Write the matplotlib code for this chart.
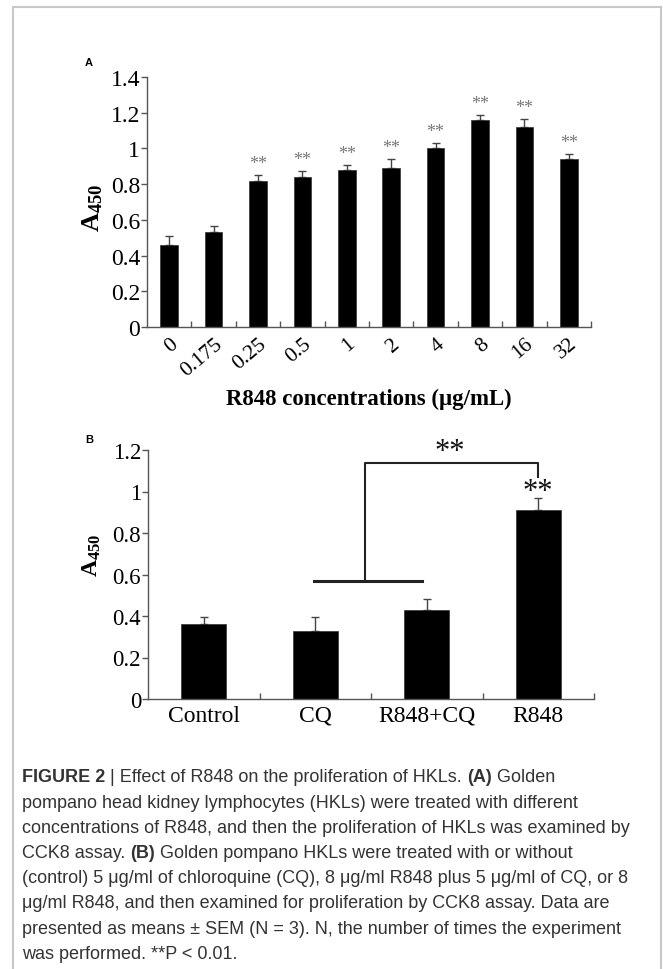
import numpy as np
import matplotlib
matplotlib.use('Agg')
import matplotlib.pyplot as plt
from matplotlib.patches import Rectangle

# panel A data
conc_labels = ['0', '0.175', '0.25', '0.5', '1', '2', '4', '8', '16', '32']
conc_means = [0.46, 0.53, 0.82, 0.84, 0.88, 0.89, 1.00, 1.16, 1.12, 0.94]
conc_sem = [0.05, 0.035, 0.03, 0.035, 0.03, 0.05, 0.03, 0.03, 0.045, 0.03]
conc_signif = [False, False, True, True, True, True, True, True, True, True]

# panel B data
group_labels = ['Control', 'CQ', 'R848+CQ', 'R848']
group_means = [0.36, 0.33, 0.43, 0.91]
group_sem = [0.035, 0.065, 0.05, 0.06]

caption_lines = [
    [('FIGURE 2', True), (' | Effect of R848 on the proliferation of HKLs. ', False), ('(A)', True), (' Golden', False)],
    [('pompano head kidney lymphocytes (HKLs) were treated with different', False)],
    [('concentrations of R848, and then the proliferation of HKLs was examined by', False)],
    [('CCK8 assay. ', False), ('(B)', True), (' Golden pompano HKLs were treated with or without', False)],
    [('(control) 5 \u03bcg/ml of chloroquine (CQ), 8 \u03bcg/ml R848 plus 5 \u03bcg/ml of CQ, or 8', False)],
    [('\u03bcg/ml R848, and then examined for proliferation by CCK8 assay. Data are', False)],
    [('presented as means \u00b1 SEM (N = 3). N, the number of times the experiment', False)],
    [('was performed. **P < 0.01.', False)],
]

plt.rcParams['font.family'] = 'Liberation Serif'
plt.rcParams['mathtext.fontset'] = 'custom'
plt.rcParams['mathtext.rm'] = 'Liberation Serif'
plt.rcParams['mathtext.bf'] = 'Liberation Serif:bold'

W, H = 663, 970
fig = plt.figure(figsize=(W / 100, H / 100), dpi=100)
fig.patch.set_facecolor('white')

# light frame around the figure
fig.patches.append(Rectangle((13 / W, -0.01), (661 - 13) / W, 1.01 - 8 / H, transform=fig.transFigure,
                             fill=False, edgecolor='#c8c8c8', linewidth=1.5))


def style_axis(ax, n, ymax, step, fs):
    for side in ['top', 'right']:
        ax.spines[side].set_visible(False)
    for side in ['left', 'bottom']:
        ax.spines[side].set_color('#555555')
        ax.spines[side].set_linewidth(1.0)
    ax.set_xlim(-0.5, n - 0.5)
    ax.set_ylim(0, ymax)
    yt = np.round(np.arange(0, ymax + 1e-9, step), 1)
    ax.set_yticks(yt)
    ax.set_yticklabels(['%g' % v for v in yt], fontsize=fs)
    ax.tick_params(axis='y', direction='out', length=4, width=1, color='#555555', pad=1)
    ax.set_xticks(np.arange(n))
    ax.set_xticks(np.arange(0.5, n, 1), minor=True)
    ax.tick_params(axis='x', which='major', length=0)
    ax.tick_params(axis='x', which='minor', direction='in', length=4, width=1, color='#555555')


# ---- panel A ----
axA = fig.add_axes([147 / W, 1 - 328 / H, 444 / W, 250 / H])
x = np.arange(len(conc_labels))
axA.bar(x, conc_means, width=0.4, color='black', edgecolor='#333333', linewidth=0.5, zorder=2)
axA.errorbar(x, conc_means, yerr=[np.zeros(len(x)), conc_sem], fmt='none', ecolor='#444444',
             elinewidth=1, capsize=3, capthick=1, zorder=1)
style_axis(axA, len(conc_labels), 1.4, 0.2, 17)
axA.set_xticklabels(conc_labels, fontsize=15.5, rotation=40, ha='right', rotation_mode='anchor')
axA.tick_params(axis='x', which='major', pad=5)
for xi, m, e, s in zip(x, conc_means, conc_sem, conc_signif):
    if s:
        axA.annotate('**', (xi, m + e), xytext=(0, 2), textcoords='offset points', ha='center',
                     va='bottom', fontsize=13, color='#777777')
axA.set_ylabel(r'$\mathbf{A_{450}}$', fontsize=19)
axA.yaxis.set_label_coords(-0.095, 0.48)
axA.set_xlabel('R848 concentrations (\u03bcg/mL)', fontsize=16.5, fontweight='bold', labelpad=6)
fig.text(89 / W, 1 - 63 / H, 'A', fontsize=8, fontweight='bold', family='Liberation Sans',
         ha='center', va='center')

# ---- panel B ----
axB = fig.add_axes([148 / W, 1 - 700 / H, 446 / W, 249 / H])
xb = np.arange(len(group_labels))
axB.bar(xb, group_means, width=0.4, color='black', edgecolor='#333333', linewidth=0.5, zorder=2)
axB.errorbar(xb, group_means, yerr=[np.zeros(len(xb)), group_sem], fmt='none', ecolor='#444444',
             elinewidth=1, capsize=3, capthick=1, zorder=1)
style_axis(axB, len(group_labels), 1.2, 0.2, 16.5)
axB.set_xticklabels(group_labels, fontsize=17)
axB.tick_params(axis='x', which='major', pad=4)
axB.set_ylabel(r'$\mathbf{A_{450}}$', fontsize=17)
axB.yaxis.set_label_coords(-0.10, 0.58)

# significance bracket
axB.plot([0.985, 1.96], [0.567, 0.567], color='#222222', linewidth=2.2, clip_on=False)
axB.plot([1.445, 1.445, 3.0, 3.0], [0.567, 1.135, 1.135, 1.068], color='#222222', linewidth=1.5,
         clip_on=False)
axB.text(2.21, 1.125, '**', ha='center', va='bottom', fontsize=22, color='#111111')
axB.text(3.0, 1.0, '**', ha='center', va='center', fontsize=22, color='#111111')
fig.text(89 / W, 1 - 440 / H, 'B', fontsize=8, fontweight='bold', family='Liberation Sans',
         ha='center', va='center')

# ---- caption ----
renderer = fig.canvas.get_renderer()
y0 = 778
dy = 25.2
for i, pieces in enumerate(caption_lines):
    xp = 22
    for txt, bold in pieces:
        t = fig.text(xp / W, 1 - (y0 + i * dy) / H, txt, fontsize=13, family='Liberation Sans',
                     fontweight='bold' if bold else 'normal', color='#333333', va='center', ha='left')
        xp += t.get_window_extent(renderer).width

fig.savefig('out.png', dpi=100)
